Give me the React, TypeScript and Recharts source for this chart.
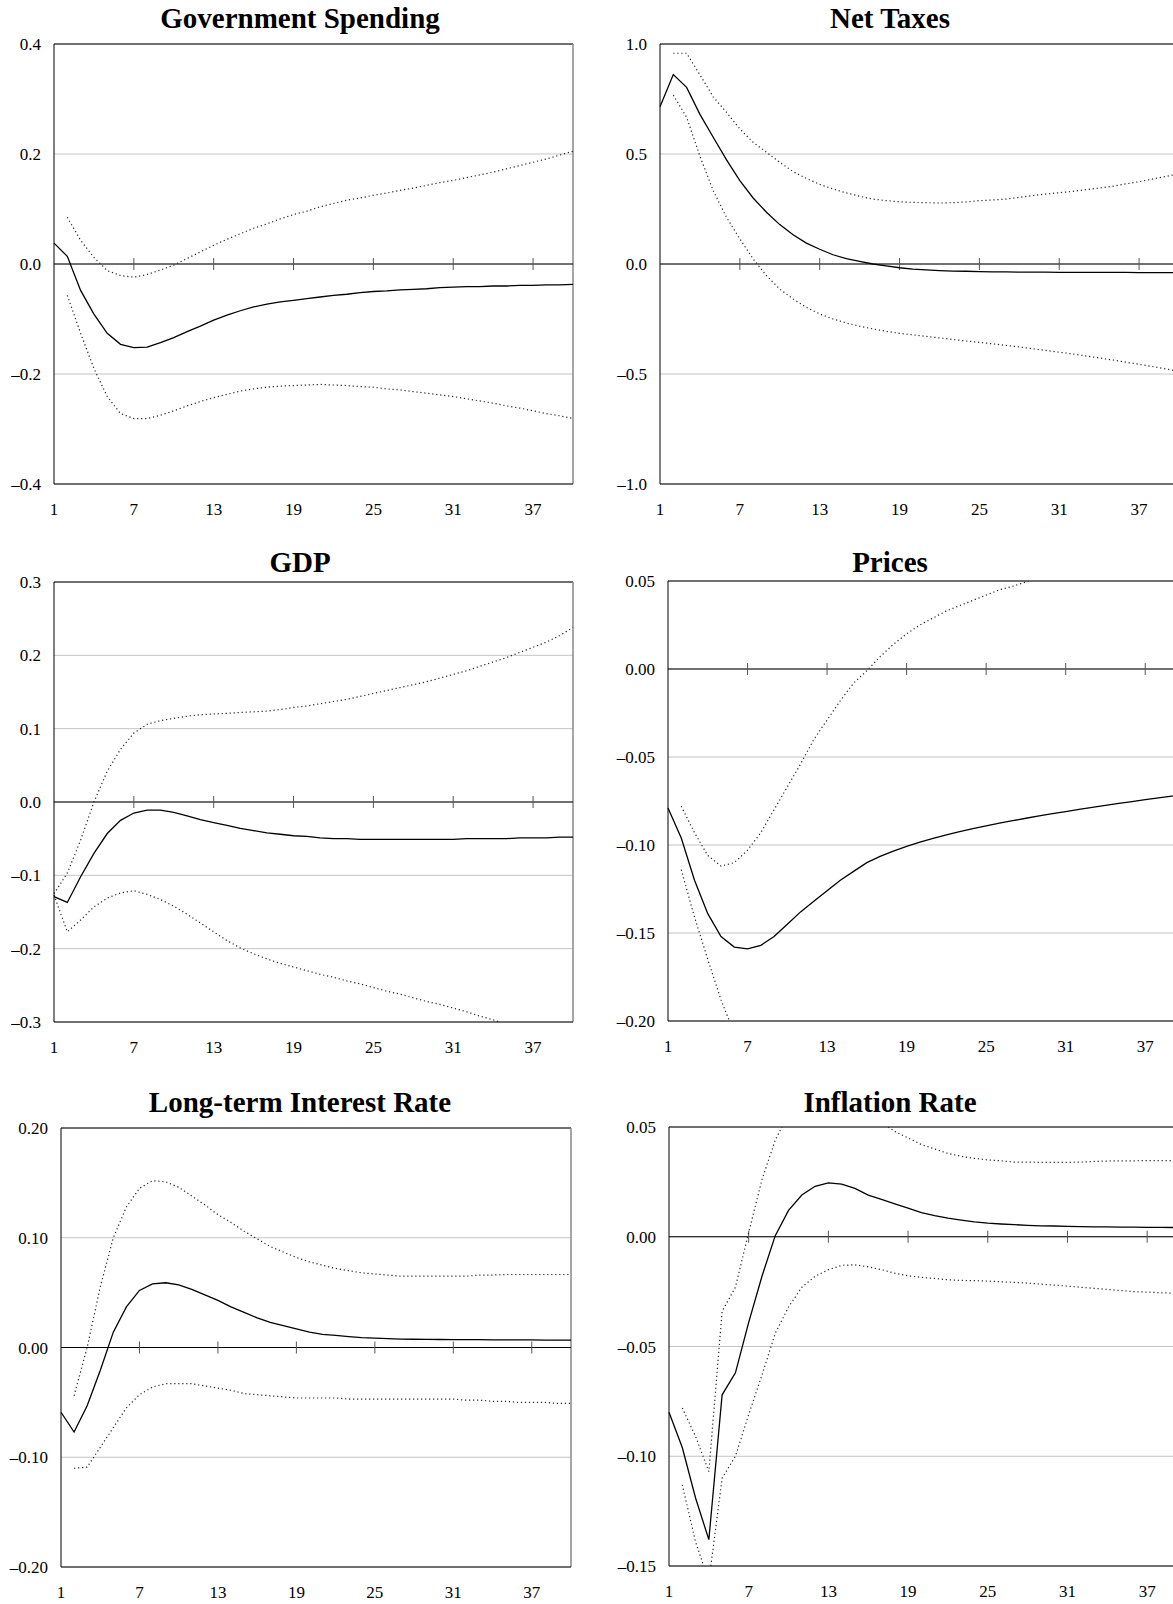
import { LineChart, Line, XAxis, YAxis, CartesianGrid, ReferenceLine } from 'recharts'

const periods = [1, 2, 3, 4, 5, 6, 7, 8, 9, 10, 11, 12, 13, 14, 15, 16, 17, 18, 19, 20, 21, 22, 23, 24, 25, 26, 27, 28, 29, 30, 31, 32, 33, 34, 35, 36, 37, 38, 39, 40]
const xTicks = [1, 7, 13, 19, 25, 31, 37]

// Government Spending
const gsMid = [0.038, 0.014, -0.048, -0.091, -0.126, -0.146, -0.152, -0.151, -0.143, -0.134, -0.123, -0.113, -0.102, -0.093, -0.085, -0.078, -0.073, -0.069, -0.066, -0.063, -0.06, -0.057, -0.055, -0.052, -0.05, -0.049, -0.047, -0.046, -0.045, -0.043, -0.042, -0.041, -0.041, -0.04, -0.04, -0.039, -0.039, -0.038, -0.038, -0.037]
const gsUp = [null, 0.085, 0.043, 0.012, -0.012, -0.021, -0.024, -0.019, -0.011, -0.002, 0.01, 0.022, 0.034, 0.045, 0.055, 0.065, 0.073, 0.082, 0.09, 0.096, 0.104, 0.11, 0.116, 0.12, 0.125, 0.129, 0.134, 0.138, 0.143, 0.148, 0.152, 0.157, 0.162, 0.167, 0.173, 0.179, 0.185, 0.191, 0.198, 0.205]
const gsLo = [null, -0.057, -0.126, -0.19, -0.241, -0.272, -0.281, -0.281, -0.275, -0.267, -0.258, -0.25, -0.243, -0.237, -0.231, -0.227, -0.224, -0.222, -0.221, -0.22, -0.219, -0.22, -0.221, -0.223, -0.224, -0.227, -0.229, -0.232, -0.235, -0.238, -0.241, -0.245, -0.249, -0.253, -0.258, -0.262, -0.267, -0.272, -0.276, -0.281]

// Net Taxes
const ntMid = [0.715, 0.861, 0.803, 0.68, 0.576, 0.473, 0.379, 0.3, 0.235, 0.179, 0.133, 0.095, 0.067, 0.042, 0.024, 0.012, 0.0, -0.009, -0.017, -0.023, -0.027, -0.03, -0.032, -0.033, -0.035, -0.036, -0.036, -0.037, -0.037, -0.037, -0.038, -0.038, -0.038, -0.038, -0.038, -0.038, -0.039, -0.039, -0.039, -0.039]
const ntUp = [null, 0.958, 0.958, 0.86, 0.76, 0.689, 0.614, 0.553, 0.508, 0.462, 0.42, 0.389, 0.362, 0.341, 0.323, 0.308, 0.295, 0.288, 0.283, 0.28, 0.279, 0.277, 0.279, 0.282, 0.288, 0.291, 0.295, 0.303, 0.311, 0.318, 0.324, 0.33, 0.338, 0.345, 0.353, 0.364, 0.374, 0.386, 0.398, 0.41]
const ntLo = [null, 0.768, 0.667, 0.49, 0.333, 0.212, 0.114, 0.023, -0.053, -0.114, -0.159, -0.197, -0.227, -0.25, -0.268, -0.283, -0.295, -0.306, -0.315, -0.322, -0.329, -0.336, -0.343, -0.35, -0.356, -0.363, -0.37, -0.377, -0.385, -0.393, -0.401, -0.409, -0.418, -0.427, -0.436, -0.446, -0.456, -0.466, -0.477, -0.488]

// GDP
const gdpMid = [-0.129, -0.137, -0.102, -0.07, -0.043, -0.025, -0.015, -0.011, -0.011, -0.014, -0.019, -0.024, -0.028, -0.032, -0.036, -0.039, -0.042, -0.044, -0.046, -0.047, -0.049, -0.05, -0.05, -0.051, -0.051, -0.051, -0.051, -0.051, -0.051, -0.051, -0.051, -0.05, -0.05, -0.05, -0.05, -0.049, -0.049, -0.049, -0.048, -0.048]
const gdpUp = [-0.125, -0.097, -0.052, 0.0, 0.042, 0.072, 0.094, 0.106, 0.111, 0.114, 0.117, 0.119, 0.12, 0.121, 0.122, 0.123, 0.124, 0.126, 0.129, 0.131, 0.134, 0.137, 0.14, 0.144, 0.148, 0.152, 0.156, 0.16, 0.164, 0.169, 0.174, 0.179, 0.185, 0.191, 0.197, 0.204, 0.211, 0.218, 0.227, 0.238]
const gdpLo = [-0.127, -0.177, -0.161, -0.143, -0.131, -0.124, -0.121, -0.126, -0.133, -0.142, -0.153, -0.165, -0.177, -0.189, -0.199, -0.207, -0.214, -0.22, -0.225, -0.23, -0.235, -0.239, -0.244, -0.248, -0.253, -0.258, -0.262, -0.267, -0.272, -0.276, -0.281, -0.286, -0.292, -0.297, -0.303, -0.309, -0.315, -0.321, -0.327, -0.333]

// Prices
const prMid = [-0.079, -0.096, -0.12, -0.139, -0.152, -0.158, -0.159, -0.157, -0.152, -0.145, -0.138, -0.132, -0.126, -0.12, -0.115, -0.11, -0.1065, -0.1035, -0.1008, -0.0984, -0.0962, -0.0942, -0.0924, -0.0907, -0.0891, -0.0876, -0.0862, -0.0848, -0.0835, -0.0822, -0.081, -0.0798, -0.0786, -0.0775, -0.0764, -0.0753, -0.0742, -0.0732, -0.0722, -0.0712]
const prUp = [null, -0.078, -0.093, -0.106, -0.112, -0.11, -0.103, -0.093, -0.08, -0.067, -0.054, -0.04, -0.029, -0.018, -0.008, -0.001, 0.007, 0.014, 0.02, 0.025, 0.029, 0.033, 0.036, 0.039, 0.042, 0.045, 0.047, 0.0495, 0.052, 0.054, 0.056, 0.058, 0.06, 0.061, 0.063, 0.064, 0.066, 0.067, 0.068, 0.07]
const prLo = [null, -0.114, -0.141, -0.165, -0.188, -0.207, -0.225, null, null, null, null, null, null, null, null, null, null, null, null, null, null, null, null, null, null, null, null, null, null, null, null, null, null, null, null, null, null, null, null, null]

// Long-term Interest Rate
const lrMid = [-0.059, -0.077, -0.053, -0.021, 0.014, 0.037, 0.052, 0.058, 0.059, 0.057, 0.053, 0.048, 0.043, 0.037, 0.032, 0.027, 0.023, 0.02, 0.017, 0.014, 0.012, 0.011, 0.01, 0.009, 0.0085, 0.008, 0.0077, 0.0075, 0.0074, 0.0073, 0.0072, 0.0071, 0.0071, 0.007, 0.007, 0.007, 0.0069, 0.0068, 0.0068, 0.0067]
const lrUp = [null, -0.044, 0.0, 0.055, 0.1, 0.128, 0.145, 0.152, 0.151, 0.146, 0.138, 0.13, 0.121, 0.114, 0.106, 0.099, 0.092, 0.087, 0.082, 0.078, 0.075, 0.072, 0.07, 0.068, 0.067, 0.066, 0.065, 0.065, 0.065, 0.065, 0.065, 0.065, 0.066, 0.066, 0.0665, 0.0665, 0.0665, 0.0665, 0.0665, 0.0665]
const lrLo = [null, -0.11, -0.109, -0.091, -0.073, -0.055, -0.043, -0.036, -0.033, -0.033, -0.033, -0.035, -0.037, -0.039, -0.042, -0.043, -0.044, -0.045, -0.046, -0.046, -0.046, -0.046, -0.047, -0.047, -0.047, -0.047, -0.047, -0.047, -0.047, -0.047, -0.047, -0.048, -0.048, -0.049, -0.049, -0.05, -0.05, -0.05, -0.051, -0.051]

// Inflation Rate
const infMid = [-0.08, -0.096, -0.119, -0.138, -0.072, -0.062, -0.039, -0.018, 0.0005, 0.012, 0.019, 0.023, 0.0245, 0.024, 0.022, 0.019, 0.017, 0.015, 0.013, 0.011, 0.0096, 0.0085, 0.0076, 0.0068, 0.0062, 0.0058, 0.0055, 0.0052, 0.005, 0.0049, 0.0047, 0.0046, 0.0045, 0.0045, 0.0044, 0.0044, 0.0043, 0.0043, 0.0042, 0.0042]
const infUp = [null, -0.078, -0.091, -0.107, -0.034, -0.023, 0.002, 0.026, 0.044, 0.056, 0.062, 0.065, 0.066, 0.064, 0.06, 0.056, 0.052, 0.048, 0.045, 0.042, 0.04, 0.038, 0.0366, 0.0357, 0.035, 0.0346, 0.034, 0.034, 0.0339, 0.0339, 0.0339, 0.034, 0.0343, 0.0345, 0.0346, 0.0346, 0.0347, 0.0347, 0.0347, 0.0347]
const infLo = [null, -0.113, -0.139, -0.157, -0.11, -0.1, -0.081, -0.063, -0.044, -0.032, -0.023, -0.018, -0.015, -0.013, -0.0128, -0.0137, -0.015, -0.0166, -0.0178, -0.0185, -0.019, -0.0196, -0.0199, -0.02, -0.0202, -0.0205, -0.0208, -0.0211, -0.0216, -0.022, -0.0225, -0.023, -0.0235, -0.024, -0.0245, -0.025, -0.0252, -0.0255, -0.0258, -0.026]

const FONT = '"Liberation Serif", "Times New Roman", serif'
const AXIS_W = 60
const TOP_PAD = 10
const X_AXIS_H = 44

type PanelProps = {
  title: string
  titleX: number
  titleTop: number
  plot: { left: number; top: number; width: number; height: number }
  yDomain: [number, number]
  yTicks: number[]
  decimals: number
  mid: (number | null)[]
  up: (number | null)[]
  lo: (number | null)[]
}

function Panel({ title, titleX, titleTop, plot, yDomain, yTicks, decimals, mid, up, lo }: PanelProps) {
  const data = periods.map((p, i) => ({ p, mid: mid[i], up: up[i], lo: lo[i] }))
  const half = (6 * (yDomain[1] - yDomain[0])) / plot.height
  const fmt = (v: number) => (v < 0 ? '\u2013' : '') + Math.abs(v).toFixed(decimals)
  const chartW = AXIS_W + plot.width + 10
  const chartH = TOP_PAD + plot.height + X_AXIS_H

  return (
    <>
      <div
        style={{
          position: 'absolute',
          left: titleX - 295,
          top: titleTop,
          width: 590,
          textAlign: 'center',
          fontFamily: FONT,
          fontWeight: 'bold',
          fontSize: 29,
          lineHeight: '29px',
          color: '#000'
        }}
      >
        {title}
      </div>
      <div style={{ position: 'absolute', left: plot.left - AXIS_W, top: plot.top - TOP_PAD }}>
        <LineChart width={chartW} height={chartH} data={data} margin={{ top: TOP_PAD, right: 10, bottom: 0, left: 0 }}>
          <CartesianGrid vertical={false} stroke="#c4c4c4" />
          <XAxis
            dataKey="p"
            type="number"
            domain={[1, 40]}
            ticks={xTicks}
            height={X_AXIS_H}
            tickSize={0}
            tickMargin={19}
            tickLine={false}
            axisLine={{ stroke: '#000' }}
            tick={{ fill: '#000', fontSize: 17, fontFamily: FONT }}
          />
          <YAxis
            type="number"
            domain={yDomain}
            ticks={yTicks}
            allowDataOverflow
            width={AXIS_W}
            tickSize={0}
            tickMargin={13}
            tickLine={false}
            axisLine={{ stroke: '#000' }}
            tick={{ fill: '#000', fontSize: 17, fontFamily: FONT }}
            tickFormatter={fmt}
          />
          <ReferenceLine y={yDomain[1]} stroke="#000" />
          <ReferenceLine x={40} stroke="#888" strokeWidth={1.5} />
          <ReferenceLine y={0} stroke="#000" strokeWidth={1.2} />
          {xTicks.slice(1).map((t) => (
            <ReferenceLine
              key={t}
              segment={[
                { x: t, y: -half },
                { x: t, y: half }
              ]}
              stroke="#555"
            />
          ))}
          <Line type="linear" dataKey="up" stroke="#222" strokeWidth={1.2} strokeDasharray="1.2 2.8" dot={false} isAnimationActive={false} />
          <Line type="linear" dataKey="lo" stroke="#222" strokeWidth={1.2} strokeDasharray="1.2 2.8" dot={false} isAnimationActive={false} />
          <Line type="linear" dataKey="mid" stroke="#000" strokeWidth={1.3} dot={false} isAnimationActive={false} />
        </LineChart>
      </div>
    </>
  )
}

export default function App() {
  return (
    <div
      style={{
        position: 'absolute',
        left: 0,
        top: 0,
        width: 1173,
        height: 1604,
        overflow: 'hidden',
        background: '#fff'
      }}
    >
      <Panel
        title="Government Spending"
        titleX={300}
        titleTop={4}
        plot={{ left: 54, top: 44, width: 519, height: 440 }}
        yDomain={[-0.4, 0.4]}
        yTicks={[-0.4, -0.2, 0, 0.2, 0.4]}
        decimals={1}
        mid={gsMid}
        up={gsUp}
        lo={gsLo}
      />
      <Panel
        title="Net Taxes"
        titleX={890}
        titleTop={4}
        plot={{ left: 660, top: 44, width: 519, height: 440 }}
        yDomain={[-1, 1]}
        yTicks={[-1, -0.5, 0, 0.5, 1]}
        decimals={1}
        mid={ntMid}
        up={ntUp}
        lo={ntLo}
      />
      <Panel
        title="GDP"
        titleX={300}
        titleTop={548}
        plot={{ left: 54, top: 582, width: 519, height: 440 }}
        yDomain={[-0.3, 0.3]}
        yTicks={[-0.3, -0.2, -0.1, 0, 0.1, 0.2, 0.3]}
        decimals={1}
        mid={gdpMid}
        up={gdpUp}
        lo={gdpLo}
      />
      <Panel
        title="Prices"
        titleX={890}
        titleTop={548}
        plot={{ left: 668, top: 581, width: 517, height: 440 }}
        yDomain={[-0.2, 0.05]}
        yTicks={[-0.2, -0.15, -0.1, -0.05, 0, 0.05]}
        decimals={2}
        mid={prMid}
        up={prUp}
        lo={prLo}
      />
      <Panel
        title="Long-term Interest Rate"
        titleX={300}
        titleTop={1088}
        plot={{ left: 61, top: 1128, width: 510, height: 439 }}
        yDomain={[-0.2, 0.2]}
        yTicks={[-0.2, -0.1, 0, 0.1, 0.2]}
        decimals={2}
        mid={lrMid}
        up={lrUp}
        lo={lrLo}
      />
      <Panel
        title="Inflation Rate"
        titleX={890}
        titleTop={1088}
        plot={{ left: 669, top: 1127, width: 518, height: 439 }}
        yDomain={[-0.15, 0.05]}
        yTicks={[-0.15, -0.1, -0.05, 0, 0.05]}
        decimals={2}
        mid={infMid}
        up={infUp}
        lo={infLo}
      />
    </div>
  )
}
